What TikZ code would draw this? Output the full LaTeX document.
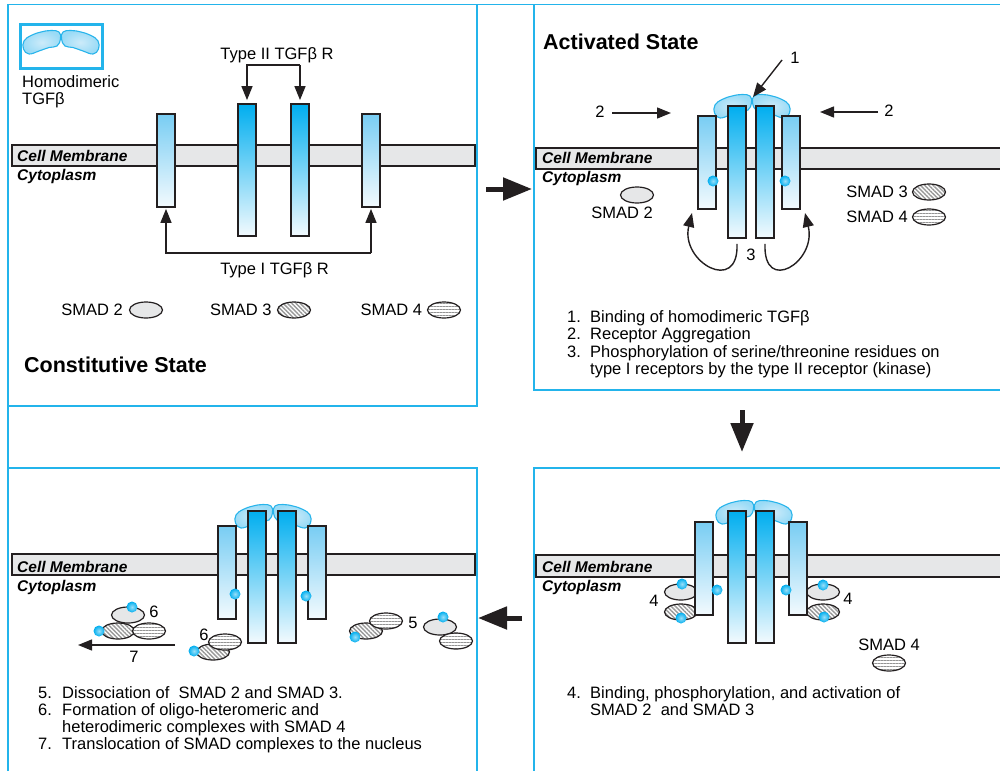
\documentclass[tikz,border=0pt]{standalone}
\usepackage{fontspec}
\setmainfont{Liberation Sans}
\usetikzlibrary{arrows.meta,positioning,shapes.geometric,patterns.meta}

\definecolor{panelblue}{RGB}{35,180,235}
\definecolor{mbgray}{RGB}{230,231,232}
\definecolor{inkline}{RGB}{35,31,32}
\definecolor{rtop}{RGB}{0,174,239}
\definecolor{rlight}{RGB}{120,205,243}
\definecolor{rbottom}{RGB}{243,250,254}
\definecolor{ligfill}{RGB}{192,230,248}
\definecolor{ligline}{RGB}{40,180,235}

\tikzset{
  panel/.style={draw=panelblue, line width=1.5pt},
  mline/.style={draw=inkline, line width=1.6pt},
  membrane/.style={fill=mbgray, draw=inkline, line width=1.6pt},
  mtext/.style={font=\fontsize{15.5}{17}\selectfont\bfseries\itshape, inner sep=0pt, anchor=base west},
  txt/.style={font=\fontsize{16.5}{17.3}\selectfont, inner sep=0pt},
  title/.style={font=\fontsize{21.5}{24}\selectfont\bfseries, inner sep=0pt, anchor=base west},
  rcp/.style={draw=inkline, line width=1.8pt, inner sep=0pt, minimum width=18pt},
  rone/.style={rcp, minimum height=93pt, top color=rlight, bottom color=rbottom},
  rtwo/.style={rcp, minimum height=132pt, top color=rtop, bottom color=rbottom},
  smad/.style={ellipse, draw=inkline, line width=1.2pt, minimum width=33pt, minimum height=16pt, inner sep=0pt},
  smadtwo/.style={smad, fill=mbgray},
  smadthree/.style={smad, preaction={fill=white}, pattern={Lines[angle=135,distance=3pt,line width=1.4pt]}, pattern color=gray!80},
  smadfour/.style={smad, preaction={fill=white}, pattern={Lines[angle=0,distance=3pt,line width=0.7pt]}, pattern color=gray!85},
  phos/.style={circle, minimum size=11pt, inner sep=0pt, inner color=white!60!rtop, outer color=rtop},
  lobe/.style={draw=ligline, line width=1.1pt, inner color=white!20!ligfill, outer color=ligfill!80!rtop},
  arr/.style={-{Triangle[length=14pt,width=11pt]}, line width=1.4pt, draw=inkline},
  bigarr/.style={-{Triangle[length=29pt,width=22pt]}, line width=5pt, draw=inkline}
}

\begin{document}
\begin{tikzpicture}[x=1pt,y=-1pt]
\useasboundingbox (0,0) rectangle (1000,771);

% frames
\draw[panel] (8,771) -- (8,4.5) -- (1000,4.5);
\draw[panel] (8,406) -- (477,406) -- (477,4.5);
\draw[panel] (534,4.5) -- (534,390) -- (1000,390);
\draw[panel] (8,468) -- (477,468) -- (477,771);
\draw[panel] (1000,468) -- (534,468) -- (534,771);

\coordinate (s1) at (486,189); \coordinate (e1) at (532,189);
\coordinate (s2) at (742,410); \coordinate (e2) at (742,452);
\coordinate (s3) at (522,618); \coordinate (e3) at (478,618);
\draw[bigarr] (s1) -- (e1);
\draw[bigarr] (s2) -- (e2);
\draw[bigarr] (s3) -- (e3);

% TGFb dimers
\foreach \cx/\cy in {61/32, 752/96, 754/502, 273/506} {
  \path[lobe, shift={(\cx,\cy)}] plot[smooth cycle, tension=0.7] coordinates {(-2,0) (-10,-1.5) (-20,0) (-30,3.5) (-37,9) (-37.5,17) (-32,22) (-22,19) (-12,15.5) (-4,14) (-0.5,7)};
  \path[lobe, shift={(\cx,\cy)}, xscale=-1] plot[smooth cycle, tension=0.7] coordinates {(-2,0) (-10,-1.5) (-20,0) (-30,3.5) (-37,9) (-37.5,17) (-32,22) (-22,19) (-12,15.5) (-4,14) (-0.5,7)};
}

% constitutive state
\node[draw=panelblue, line width=3pt, minimum width=82pt, minimum height=44pt, inner sep=0pt] (key) at (61,46) {};
\node[txt, anchor=base west] (keya) at (22,87) {Homodimeric};
\node[txt, anchor=base west] (keyb) at (22,104) {TGFβ};

\path[membrane] (12,145) rectangle (475,166);
\node[mtext] (cm1) at (17,161) {Cell Membrane};
\node[mtext] (cy1) at (17,180) {Cytoplasm};

\foreach \x [count=\n] in {166,371} \node[rone] (ra\n) at (\x,160.5) {};
\foreach \x [count=\n] in {247,300} \node[rtwo] (rb\n) at (\x,170) {};

\node[txt, anchor=base] (tII) at (277,59) {Type II TGFβ R};
\coordinate (b2l) at (247,65); \coordinate (b2r) at (300,65);
\draw[arr, shorten >=3pt] (b2r) -- (b2l) -- (rb1.north);
\draw[arr, shorten >=3pt] (b2r) -- (rb2.north);

\node[txt, anchor=base] (tI) at (274.5,274) {Type I TGFβ R};
\coordinate (b1l) at (166,253); \coordinate (b1r) at (371,253);
\draw[arr, shorten >=1pt] (b1r) -- (b1l) -- (ra1.south);
\draw[arr, shorten >=1pt] (b1r) -- (ra2.south);

\node[smadtwo] (sm1a) at (146,310) {};
\node[smadthree] (sm1b) at (294,310) {};
\node[smadfour] (sm1c) at (444,310) {};
\node[txt, left=6pt of sm1a] {SMAD 2};
\node[txt, left=5pt of sm1b] {SMAD 3};
\node[txt, left=5pt of sm1c] {SMAD 4};

\node[title] (st1) at (24,372) {Constitutive State};

% activated state
\node[title] (st2) at (543,49) {Activated State};
\fill[mbgray] (536,148) rectangle (1000,169);
\draw[mline] (1000,148) -- (536,148) -- (536,169) -- (1000,169);
\node[mtext] (cm2) at (542,163.5) {Cell Membrane};
\node[mtext] (cy2) at (542,182) {Cytoplasm};

\foreach \x [count=\n] in {707,791} \node[rone] (qa\n) at (\x,162.5) {};
\foreach \x [count=\n] in {737,765} \node[rtwo] (qb\n) at (\x,172) {};
\foreach \p [count=\n] in {(713,181),(785,181)} \node[phos] (qp\n) at \p {};

\coordinate (one0) at (782,60); \coordinate (one1) at (753,97);
\draw[arr] (one0) -- (one1);
\node[txt, anchor=base] (n1) at (795,63) {1};
\coordinate (twa0) at (612,113); \coordinate (twa1) at (671,113);
\draw[arr] (twa0) -- (twa1);
\node[txt, anchor=base] (n2a) at (600,117) {2};
\coordinate (twb0) at (878,112); \coordinate (twb1) at (820,112);
\draw[arr] (twb0) -- (twb1);
\node[txt, anchor=base] (n2b) at (889,116) {2};

\coordinate (k1) at (692,213); \coordinate (k2) at (805,213);
\draw[arr] ([yshift=-5pt]qb1.south) .. controls (739,295) and (680,262) .. (k1);
\draw[arr] ([yshift=-5pt]qb2.south) .. controls (763,295) and (817,262) .. (k2);
\node[txt, anchor=base] (n3) at (751,260) {3};

\node[smadtwo] (sm2a) at (637,195) {};
\node[txt, anchor=base] at (622,218) {SMAD 2};
\node[smadthree] (sm2b) at (929,192) {};
\node[smadfour] (sm2c) at (929,217) {};
\node[txt, left=4pt of sm2b] {SMAD 3};
\node[txt, left=4pt of sm2c] {SMAD 4};

\node[txt, anchor=base west] at (567,322) {1.};
\node[txt, anchor=base west] at (590,322) {Binding of homodimeric TGFβ};
\node[txt, anchor=base west] at (567,339.5) {2.};
\node[txt, anchor=base west] at (590,339.5) {Receptor Aggregation};
\node[txt, anchor=base west] at (567,357) {3.};
\node[txt, anchor=base west] at (590,357) {Phosphorylation of serine/threonine residues on};
\node[txt, anchor=base west] at (590,374.5) {type I receptors by the type II receptor (kinase)};

% binding of SMAD 2 and SMAD 3
\fill[mbgray] (536,555) rectangle (1000,577);
\draw[mline] (1000,555) -- (536,555) -- (536,577) -- (1000,577);
\node[mtext] (cm4) at (542,572) {Cell Membrane};
\node[mtext] (cy4) at (542,591) {Cytoplasm};

\node[smadtwo] (sm4a) at (681,592) {};
\node[smadthree] (sm4b) at (681,612) {};
\node[smadtwo] (sm4c) at (823,592) {};
\node[smadthree] (sm4d) at (823,612) {};

\foreach \x [count=\n] in {704,798} \node[rone] (sa\n) at (\x,568.5) {};
\foreach \x [count=\n] in {737,765} \node[rtwo] (sb\n) at (\x,577) {};
\foreach \p [count=\n] in {(717,590),(786,590),(682,584),(681,618),(823,585),(824,617)} \node[phos] (sp\n) at \p {};

\node[txt, anchor=base] (n4a) at (654,606) {4};
\node[txt, anchor=base] (n4b) at (848,604) {4};
\node[smadfour] (sm4e) at (889,663) {};
\node[txt, anchor=base] at (889,650) {SMAD 4};

\node[txt, anchor=base west] at (567,698) {4.};
\node[txt, anchor=base west] at (590,698) {Binding, phosphorylation, and activation of};
\node[txt, anchor=base west] at (590,715) {SMAD 2~ and SMAD 3};

% dissociation and translocation
\path[membrane] (12,554) rectangle (475,575);
\node[mtext] (cm3) at (17,572) {Cell Membrane};
\node[mtext] (cy3) at (17,591) {Cytoplasm};

\foreach \x [count=\n] in {227,317} \node[rone] (ua\n) at (\x,572.5) {};
\foreach \x [count=\n] in {257,287} \node[rtwo] (ub\n) at (\x,577) {};

\node[smadtwo] (sm3a) at (128,615) {};
\node[smadthree] (sm3b) at (118,631) {};
\node[smadfour] (sm3c) at (149,631) {};
\node[smadthree] (sm3d) at (213,652) {};
\node[smadfour] (sm3e) at (225,642) {};
\node[smadthree] (sm3f) at (366,631) {};
\node[smadfour] (sm3g) at (386,621) {};
\node[smadtwo] (sm3h) at (440,627) {};
\node[smadfour] (sm3i) at (456,641) {};
\foreach \p [count=\n] in {(235,594),(306,596),(132,607),(99,631),(194,651),(355,637),(443,617)} \node[phos] (up\n) at \p {};

\node[txt, anchor=base] (n6a) at (154,617) {6};
\node[txt, anchor=base] (n6b) at (204,640) {6};
\node[txt, anchor=base] (n5) at (413,628) {5};
\coordinate (sev0) at (175,645); \coordinate (sev1) at (78,645);
\draw[arr] (sev0) -- (sev1);
\node[txt, anchor=base] (n7) at (134,662) {7};

\node[txt, anchor=base west] at (38,698) {5.};
\node[txt, anchor=base west] at (62,698) {Dissociation of~ SMAD 2 and SMAD 3.};
\node[txt, anchor=base west] at (38,715) {6.};
\node[txt, anchor=base west] at (62,715) {Formation of oligo-heteromeric and};
\node[txt, anchor=base west] at (62,732) {heterodimeric complexes with SMAD 4};
\node[txt, anchor=base west] at (38,749) {7.};
\node[txt, anchor=base west] at (62,749) {Translocation of SMAD complexes to the nucleus};
\end{tikzpicture}
\end{document}
